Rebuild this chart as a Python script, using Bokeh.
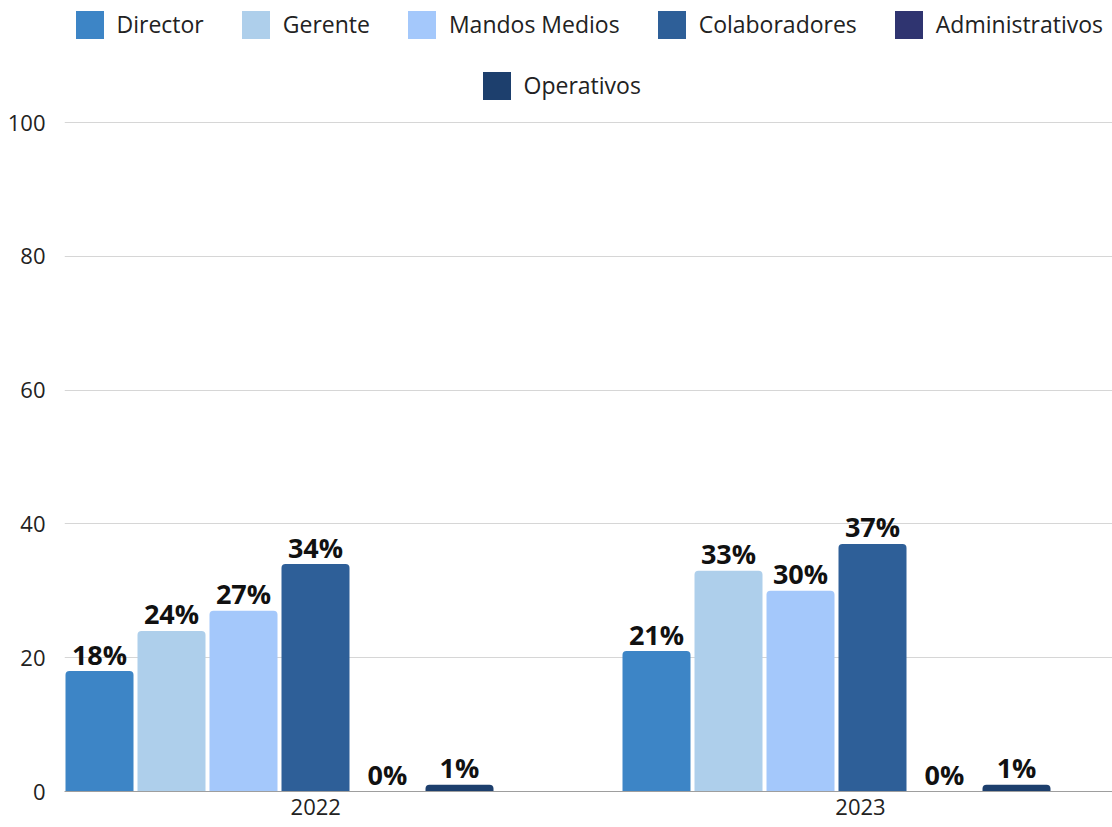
from bokeh.plotting import figure
from bokeh.models import ColumnDataSource, Legend, LegendItem, FixedTicker, Range1d
from bokeh.embed import file_html
from bokeh.resources import INLINE
from bokeh.core.properties import value

# ---- data ----
years = ["2022", "2023"]
series = ["Director", "Gerente", "Mandos Medios", "Colaboradores", "Administrativos", "Operativos"]
director = [18, 21]
gerente = [24, 33]
mandos_medios = [27, 30]
colaboradores = [34, 37]
administrativos = [0, 0]
operativos = [1, 1]
series_values = [director, gerente, mandos_medios, colaboradores, administrativos, operativos]
y_ticks = [0, 20, 40, 60, 80, 100]

# ---- style ----
colors = ["#3d85c6", "#aecfeb", "#a4c8fb", "#2e5f98", "#2f3470", "#1d3f6d"]
FONT = "Open Sans"
step = 72 / 557.0
bar_w = 68 / 557.0
label_pos = [0.065, 1.043]

W, H = 1112, 827
BOTTOM = 36
LEFT = 64
frame_h = H - BOTTOM
top_gap = 122  # px above the 100 gridline reserved for the legend
y_end = 100.0 * frame_h / (frame_h - top_gap)

p = figure(width=W, height=H, output_backend="svg", toolbar_location=None,
           title=None, x_range=Range1d(-0.386, 1.4955), y_range=Range1d(0, y_end),
           min_border=0, min_border_left=LEFT, min_border_right=0,
           min_border_bottom=BOTTOM, min_border_top=0)
p.outline_line_color = None
p.background_fill_color = "white"
p.border_fill_color = "white"

renderers = []
n = len(series)
for k, (name, vals, col) in enumerate(zip(series, series_values, colors)):
    xs = [g + (k - (n - 1) / 2.0) * step for g in range(len(years))]
    src = ColumnDataSource(dict(x=xs, top=vals, lab=[f"{v}%" for v in vals]))
    r = p.vbar(x="x", top="top", width=bar_w, source=src, fill_color=col,
               line_color=None, border_radius=(4, 4, 0, 0))
    renderers.append(r)
    p.text(x="x", y="top", text="lab", source=src, text_align="center",
           text_baseline="middle", y_offset=-17, text_font=value(FONT),
           text_font_size="27px", text_font_style="bold", text_color="#111111")

# axes
p.yaxis.ticker = FixedTicker(ticks=y_ticks)
p.yaxis.axis_line_color = None
p.yaxis.major_tick_line_color = None
p.yaxis.minor_tick_line_color = None
p.yaxis.major_tick_in = 0
p.yaxis.major_tick_out = 0
p.yaxis.major_label_standoff = 19
p.yaxis.major_label_text_font = FONT
p.yaxis.major_label_text_font_size = "22px"
p.yaxis.major_label_text_color = "#222222"

p.xaxis.ticker = FixedTicker(ticks=label_pos)
p.xaxis.major_label_overrides = {label_pos[i]: years[i] for i in range(len(years))}
p.xaxis.axis_line_color = "#9e9e9e"
p.xaxis.axis_line_width = 1
p.xaxis.major_tick_line_color = None
p.xaxis.minor_tick_line_color = None
p.xaxis.major_tick_in = 0
p.xaxis.major_tick_out = 0
p.xaxis.major_label_standoff = 7
p.xaxis.major_label_text_font = FONT
p.xaxis.major_label_text_font_size = "22px"
p.xaxis.major_label_text_color = "#222222"

p.xgrid.grid_line_color = None
p.ygrid.ticker = FixedTicker(ticks=y_ticks)
p.ygrid.grid_line_color = "#d6d6d6"
p.ygrid.grid_line_width = 1

GL = 35


def make_legend(items, loc):
    lg = Legend(items=items, orientation="horizontal", location=loc,
                glyph_width=GL, glyph_height=GL, label_standoff=10, spacing=34,
                padding=0, margin=0, border_line_color=None,
                background_fill_alpha=0, label_text_font=FONT,
                label_text_font_size="23px", label_text_color="#222222",
                label_height=GL, label_text_baseline="middle")
    return lg


items1 = [LegendItem(label=series[i], renderers=[renderers[i]]) for i in range(5)]
items2 = [LegendItem(label=series[5], renderers=[renderers[5]])]
leg1 = make_legend(items1, (7.5, frame_h - 41.5))
leg2 = make_legend(items2, (414.5, frame_h - 102.5))
p.add_layout(leg1, "center")
p.add_layout(leg2, "center")

open("out.html", "w").write(file_html(p, INLINE))
